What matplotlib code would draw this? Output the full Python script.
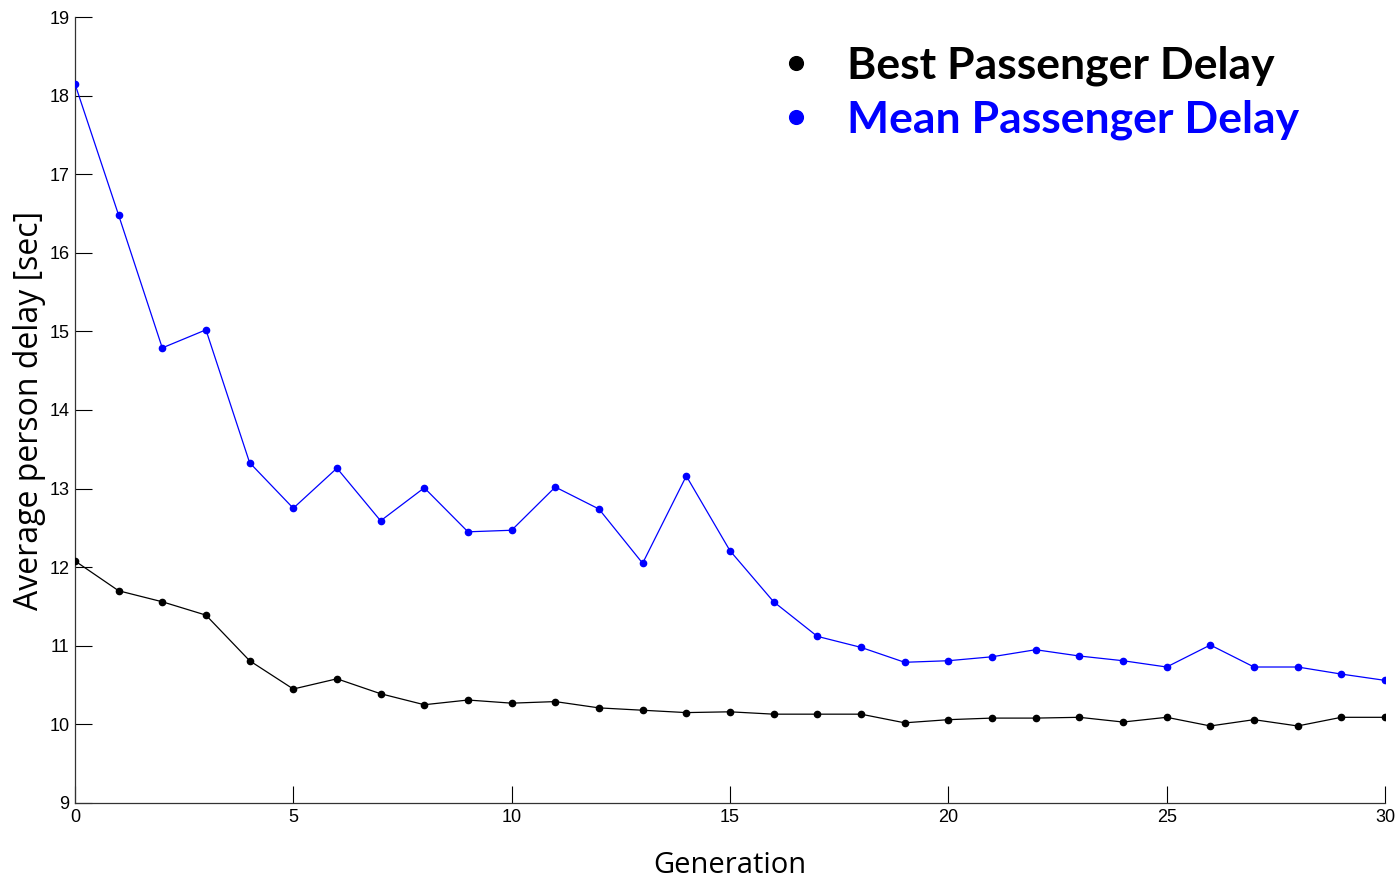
import matplotlib
matplotlib.use("Agg")
import matplotlib.pyplot as plt
from matplotlib import font_manager

# Generation index and per-generation delays (seconds)
generations = list(range(31))
best_delay = [12.08, 11.70, 11.56, 11.39, 10.81, 10.45, 10.58, 10.39, 10.25, 10.31,
              10.27, 10.29, 10.21, 10.18, 10.15, 10.16, 10.13, 10.13, 10.13, 10.02,
              10.06, 10.08, 10.08, 10.09, 10.03, 10.09, 9.98, 10.06, 9.98, 10.09,
              10.09]
mean_delay = [18.15, 16.48, 14.79, 15.02, 13.33, 12.75, 13.26, 12.59, 13.01, 12.45,
              12.47, 13.02, 12.74, 12.05, 13.16, 12.21, 11.56, 11.12, 10.98, 10.79,
              10.81, 10.86, 10.95, 10.87, 10.81, 10.73, 11.01, 10.73, 10.73, 10.64,
              10.56]

x_ticks = [0, 5, 10, 15, 20, 25, 30]
y_ticks = [9, 10, 11, 12, 13, 14, 15, 16, 17, 18, 19]

installed = {f.name for f in font_manager.fontManager.ttflist}
tick_font = "Liberation Sans Narrow" if "Liberation Sans Narrow" in installed else "Liberation Sans"

fig = plt.figure(figsize=(13.98, 8.77), dpi=100)
ax = fig.add_axes([0.0536, 0.0844, 0.9371, 0.8962])

ax.plot(generations, best_delay, color="black", linewidth=0.9,
        marker="o", markersize=4.5, label="Best Passenger Delay", zorder=3)
ax.plot(generations, mean_delay, color="#0000ff", linewidth=0.9,
        marker="o", markersize=4.5, label="Mean Passenger Delay", zorder=3)

ax.set_xlim(0, 30)
ax.set_ylim(9, 19)
ax.set_xticks(x_ticks)
ax.set_yticks(y_ticks)
ax.tick_params(direction="in", length=12, width=0.8, labelsize=13, pad=4)
for lbl in ax.get_xticklabels() + ax.get_yticklabels():
    lbl.set_fontfamily(tick_font)

ax.spines[["top", "right"]].set_visible(False)
ax.spines[["left", "bottom"]].set_linewidth(0.9)
ax.spines[["left", "bottom"]].set_color("#333333")

ax.set_xlabel("Generation", fontsize=21, family="Open Sans", labelpad=18)
ax.set_ylabel("Average person delay [sec]", fontsize=23, family="Open Sans", labelpad=2)

leg = ax.legend(loc="upper right", bbox_to_anchor=(0.965, 1.015), frameon=False,
                handlelength=0.6, handletextpad=0.85, markerscale=2.2,
                labelcolor="linecolor", labelspacing=0.3,
                prop={"family": "Lato", "weight": "bold", "size": 32})
for h in leg.legend_handles:
    h.set_linestyle("none")

fig.savefig("out.png", dpi=100, facecolor="white")
